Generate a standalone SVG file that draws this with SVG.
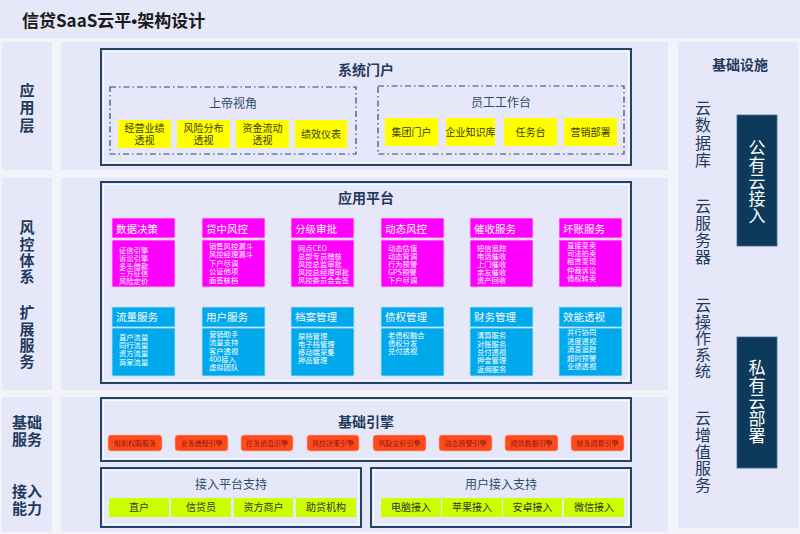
<svg xmlns="http://www.w3.org/2000/svg" width="800" height="534" viewBox="0 0 800 534">
<style>
text{font-family:"Noto Sans CJK SC","Noto Sans",sans-serif;}
.panel{fill:#E6E7F9;}
.box{fill:#E6E7F9;stroke:#234466;stroke-width:2;}
.inner{fill:none;stroke:#FFFFFF;stroke-width:0.8;}
.dash{fill:none;stroke:#2C4A6A;stroke-width:1.2;stroke-dasharray:6 3 1.5 3;}
.lbl{font-size:15px;font-weight:bold;fill:#1F3A5C;text-anchor:middle;}
.vl{font-size:15px;font-weight:bold;fill:#1F3A5C;writing-mode:vertical-rl;}
.ttl{font-size:14px;font-weight:bold;fill:#1F3A5C;text-anchor:middle;}
.sub{font-size:12px;fill:#2C4A6A;text-anchor:middle;}
.yel{fill:#FFFF00;}
.ytx{font-size:10px;fill:#3A3A10;text-anchor:middle;}
.mag{fill:#FF00FF;stroke:#F6C8F6;stroke-width:0.8;}
.blu{fill:#00A8EC;stroke:#B8E4F8;stroke-width:0.8;}
.htx{font-size:10.5px;fill:#FFFFFF;}
.btx{font-size:7.3px;fill:#FFFFFF;}
.red{fill:#FF4A1C;stroke:#FFB09A;stroke-width:0.6;}
.rtx{font-family:"Liberation Serif","Noto Serif CJK SC","Noto Sans CJK SC",serif;font-size:7px;fill:#6A0A0A;text-anchor:middle;}
.grn{fill:#CCFF00;}
.gtx{font-size:10px;fill:#333333;text-anchor:middle;}
.vtx{font-size:16px;fill:#1F3A5C;writing-mode:vertical-rl;}
.dark{fill:#0D3A5A;stroke:#4A6A8A;stroke-width:0.8;}
.wtx{font-size:17px;fill:#FFFFFF;writing-mode:vertical-rl;}
</style>
<rect x="0" y="0" width="800" height="534" fill="#F3F4F9"/>
<g id="header">
<rect x="0" y="0" width="800" height="38" class="panel"/>
<text x="22" y="27" font-size="17" font-weight="bold" fill="#1A1A1A">信贷SaaS云平<tspan font-family="Liberation Sans, sans-serif">•</tspan>架构设计</text>
</g>
<g id="left-labels">
<rect x="2" y="42" width="50" height="128" class="panel"/>
<rect x="2" y="178" width="50" height="212" class="panel"/>
<rect x="2" y="397" width="50" height="135" class="panel"/>
<text x="27" y="82.5" class="vl" letter-spacing="2.5">应用层</text>
<text x="27" y="220" class="vl" letter-spacing="1.4">风控体系</text>
<text x="27" y="305" class="vl" letter-spacing="1.4">扩展服务</text>
<text x="27" y="428" class="lbl">基础</text>
<text x="27" y="445" class="lbl">服务</text>
<text x="27" y="497" class="lbl">接入</text>
<text x="27" y="514" class="lbl">能力</text>
</g>
<g id="middle-panels">
<rect x="61" y="42" width="607" height="128" class="panel"/>
<rect x="61" y="178" width="607" height="212" class="panel"/>
<rect x="61" y="397" width="607" height="135" class="panel"/>
</g>
<g id="portal">
<rect x="101" y="49" width="530" height="116" class="box"/>
<rect x="103.5" y="51.5" width="525" height="111" class="inner"/>
<text x="366" y="75" class="ttl">系统门户</text>
<rect x="110" y="87" width="246" height="67" class="dash"/>
<text x="233" y="108" class="sub">上帝视角</text>
<rect x="118" y="120" width="53" height="28" class="yel"/>
<text class="ytx"><tspan x="144.5" y="132">经营业绩</tspan><tspan x="144.5" y="144">透视</tspan></text>
<rect x="177" y="120" width="53" height="28" class="yel"/>
<text class="ytx"><tspan x="203.5" y="132">风险分布</tspan><tspan x="203.5" y="144">透视</tspan></text>
<rect x="236" y="120" width="53" height="28" class="yel"/>
<text class="ytx"><tspan x="262.5" y="132">资金流动</tspan><tspan x="262.5" y="144">透视</tspan></text>
<rect x="295" y="120" width="52" height="28" class="yel"/>
<text x="321" y="138" class="ytx">绩效仪表</text>
<rect x="378" y="86" width="246" height="68" class="dash"/>
<text x="501" y="107" class="sub">员工工作台</text>
<rect x="385" y="118" width="53" height="28" class="yel"/>
<text x="411.5" y="136" class="ytx">集团门户</text>
<rect x="446" y="118" width="49" height="28" class="yel"/>
<text x="470.5" y="136" class="ytx">企业知识库</text>
<rect x="504" y="118" width="53" height="28" class="yel"/>
<text x="530.5" y="136" class="ytx">任务台</text>
<rect x="564" y="118" width="53" height="28" class="yel"/>
<text x="590.5" y="136" class="ytx">营销部署</text>
</g>
<g id="app-platform">
<rect x="101" y="182" width="530" height="201" class="box"/>
<rect x="103.5" y="184.5" width="525" height="196" class="inner"/>
<text x="366" y="203" class="ttl">应用平台</text>
</g>
<g id="risk-row">
<rect x="112" y="218" width="63" height="20" class="mag"/><text x="116" y="233" class="htx">数据决策</text>
<rect x="112" y="240" width="63" height="47" class="mag"/>
<text class="btx"><tspan x="119" y="252.7">征信引擎</tspan><tspan x="119" y="260.6">诉讼引擎</tspan><tspan x="119" y="268.5">多头借款</tspan><tspan x="119" y="276.4">三方征信</tspan><tspan x="119" y="284.3">风险定价</tspan></text>
<rect x="202" y="218" width="63" height="20" class="mag"/><text x="206" y="233" class="htx">贷中风控</text>
<rect x="202" y="240" width="63" height="47" class="mag"/>
<text class="btx"><tspan x="209" y="248.7">销售风控漏斗</tspan><tspan x="209" y="257.2">风控经理漏斗</tspan><tspan x="209" y="265.7">下户尽调</tspan><tspan x="209" y="274.2">公证他项</tspan><tspan x="209" y="282.7">面签核档</tspan></text>
<rect x="291" y="218" width="63" height="20" class="mag"/><text x="295" y="233" class="htx">分级审批</text>
<rect x="291" y="240" width="63" height="47" class="mag"/>
<text class="btx"><tspan x="298" y="250.6">网点CEO</tspan><tspan x="298" y="258.8">总部专员稽核</tspan><tspan x="298" y="267">风控总监审批</tspan><tspan x="298" y="275.2">风控总经理审批</tspan><tspan x="298" y="283.4">风控委员会会签</tspan></text>
<rect x="381" y="218" width="63" height="20" class="mag"/><text x="385" y="233" class="htx">动态风控</text>
<rect x="381" y="240" width="63" height="47" class="mag"/>
<text class="btx"><tspan x="388" y="250.6">动态估值</tspan><tspan x="388" y="258.8">动态背调</tspan><tspan x="388" y="267">行为预警</tspan><tspan x="388" y="275.2">GPS预警</tspan><tspan x="388" y="283.4">下户尽调</tspan></text>
<rect x="470" y="218" width="63" height="20" class="mag"/><text x="474" y="233" class="htx">催收服务</text>
<rect x="470" y="240" width="63" height="47" class="mag"/>
<text class="btx"><tspan x="477" y="250.6">短信追踪</tspan><tspan x="477" y="258.8">电话催收</tspan><tspan x="477" y="267">上门催收</tspan><tspan x="477" y="275.2">亲友催收</tspan><tspan x="477" y="283.4">资产回收</tspan></text>
<rect x="559" y="218" width="63" height="20" class="mag"/><text x="563" y="233" class="htx">坏账服务</text>
<rect x="559" y="240" width="63" height="47" class="mag"/>
<text class="btx"><tspan x="567" y="247.6">直接变卖</tspan><tspan x="567" y="255.9">司法拍卖</tspan><tspan x="567" y="264.2">租赁变现</tspan><tspan x="567" y="272.5">仲裁诉讼</tspan><tspan x="567" y="280.8">债权转卖</tspan></text>
</g>
<g id="ext-row">
<rect x="112" y="307" width="63" height="20" class="blu"/><text x="116" y="321" class="htx">流量服务</text>
<rect x="112" y="328" width="63" height="48" class="blu"/>
<text class="btx"><tspan x="119" y="340">直户流量</tspan><tspan x="119" y="348.2">同行流量</tspan><tspan x="119" y="356.4">资方流量</tspan><tspan x="119" y="364.6">商家流量</tspan></text>
<rect x="202" y="307" width="63" height="20" class="blu"/><text x="206" y="321" class="htx">用户服务</text>
<rect x="202" y="328" width="63" height="48" class="blu"/>
<text class="btx"><tspan x="209" y="337">营销助手</tspan><tspan x="209" y="345.3">流量支持</tspan><tspan x="209" y="353.6">客户透视</tspan><tspan x="209" y="361.9">400接入</tspan><tspan x="209" y="370.2">虚拟团队</tspan></text>
<rect x="291" y="307" width="63" height="20" class="blu"/><text x="295" y="321" class="htx">档案管理</text>
<rect x="291" y="328" width="63" height="48" class="blu"/>
<text class="btx"><tspan x="298" y="339.3">原档管理</tspan><tspan x="298" y="347.1">电子档管理</tspan><tspan x="298" y="354.9">移动端采集</tspan><tspan x="298" y="362.7">押品管理</tspan></text>
<rect x="381" y="307" width="63" height="20" class="blu"/><text x="385" y="321" class="htx">债权管理</text>
<rect x="381" y="328" width="63" height="48" class="blu"/>
<text class="btx"><tspan x="388" y="338.4">老债权融合</tspan><tspan x="388" y="346.4">债权分发</tspan><tspan x="388" y="354.4">兑付透视</tspan></text>
<rect x="470" y="307" width="63" height="20" class="blu"/><text x="474" y="321" class="htx">财务管理</text>
<rect x="470" y="328" width="63" height="48" class="blu"/>
<text class="btx"><tspan x="477" y="338.4">清算服务</tspan><tspan x="477" y="346.7">对账服务</tspan><tspan x="477" y="355">兑付透视</tspan><tspan x="477" y="363.3">押金管理</tspan><tspan x="477" y="371.6">返佣服务</tspan></text>
<rect x="559" y="307" width="63" height="20" class="blu"/><text x="563" y="321" class="htx">效能透视</text>
<rect x="559" y="328" width="63" height="48" class="blu"/>
<text class="btx"><tspan x="567" y="335.4">并行协同</tspan><tspan x="567" y="343.8">进度透视</tspan><tspan x="567" y="352.2">消息追踪</tspan><tspan x="567" y="360.6">超时预警</tspan><tspan x="567" y="369">业绩透视</tspan></text>
</g>
<g id="base-engine">
<rect x="101" y="398" width="530" height="63" class="box"/>
<rect x="103.5" y="400.5" width="525" height="58" class="inner"/>
<text x="366" y="427" class="ttl">基础引擎</text>
<rect x="108" y="435" width="54" height="16" rx="3" class="red"/><text x="135" y="445.5" class="rtx">组织权限服务</text>
<rect x="175" y="435" width="53" height="16" rx="3" class="red"/><text x="201.5" y="445.5" class="rtx">业务流程引擎</text>
<rect x="241" y="435" width="52" height="16" rx="3" class="red"/><text x="267" y="445.5" class="rtx">任务消息引擎</text>
<rect x="307" y="435" width="52" height="16" rx="3" class="red"/><text x="333" y="445.5" class="rtx">风控决策引擎</text>
<rect x="373" y="435" width="53" height="16" rx="3" class="red"/><text x="399.5" y="445.5" class="rtx">风险定价引擎</text>
<rect x="439" y="435" width="53" height="16" rx="3" class="red"/><text x="465.5" y="445.5" class="rtx">动态预警引擎</text>
<rect x="505" y="435" width="53" height="16" rx="3" class="red"/><text x="531.5" y="445.5" class="rtx">绩效数据引擎</text>
<rect x="571" y="435" width="53" height="16" rx="3" class="red"/><text x="597.5" y="445.5" class="rtx">财务清算引擎</text>
</g>
<g id="platform-access">
<rect x="101" y="468" width="260" height="59" class="box"/>
<rect x="103.5" y="470.5" width="255" height="54" class="inner"/>
<text x="231" y="489" class="sub">接入平台支持</text>
<rect x="109" y="498" width="60" height="19" class="grn"/><text x="139" y="511" class="gtx">直户</text>
<rect x="171" y="498" width="60" height="19" class="grn"/><text x="201" y="511" class="gtx">信贷员</text>
<rect x="234" y="498" width="59" height="19" class="grn"/><text x="263.5" y="511" class="gtx">资方商户</text>
<rect x="296" y="498" width="60" height="19" class="grn"/><text x="326" y="511" class="gtx">助贷机构</text>
</g>
<g id="user-access">
<rect x="371" y="468" width="260" height="59" class="box"/>
<rect x="373.5" y="470.5" width="255" height="54" class="inner"/>
<text x="501" y="489" class="sub">用户接入支持</text>
<rect x="381" y="498" width="60" height="19" class="grn"/><text x="411" y="511" class="gtx">电脑接入</text>
<rect x="442" y="498" width="60" height="19" class="grn"/><text x="472" y="511" class="gtx">苹果接入</text>
<rect x="503" y="498" width="59" height="19" class="grn"/><text x="532.5" y="511" class="gtx">安卓接入</text>
<rect x="564" y="498" width="60" height="19" class="grn"/><text x="594" y="511" class="gtx">微信接入</text>
</g>
<g id="infrastructure">
<rect x="678" y="42" width="120" height="486" class="panel"/>
<text x="740" y="70" class="ttl">基础设施</text>
<text x="703" y="100" class="vtx" letter-spacing="1.3">云数据库</text>
<text x="703" y="198" class="vtx" letter-spacing="1">云服务器</text>
<text x="703" y="297" class="vtx" letter-spacing="0.5">云操作系统</text>
<text x="703" y="410" class="vtx" letter-spacing="0.75">云增值服务</text>
</g>
<g id="public-cloud">
<rect x="737" y="115" width="40" height="131" class="dark"/>
<text x="757" y="139.5" class="wtx">公有云接入</text>
</g>
<g id="private-cloud">
<rect x="737" y="337" width="40" height="131" class="dark"/>
<text x="757" y="359.5" class="wtx">私有云部署</text>
</g>
<g id="connectors"></g>
</svg>
